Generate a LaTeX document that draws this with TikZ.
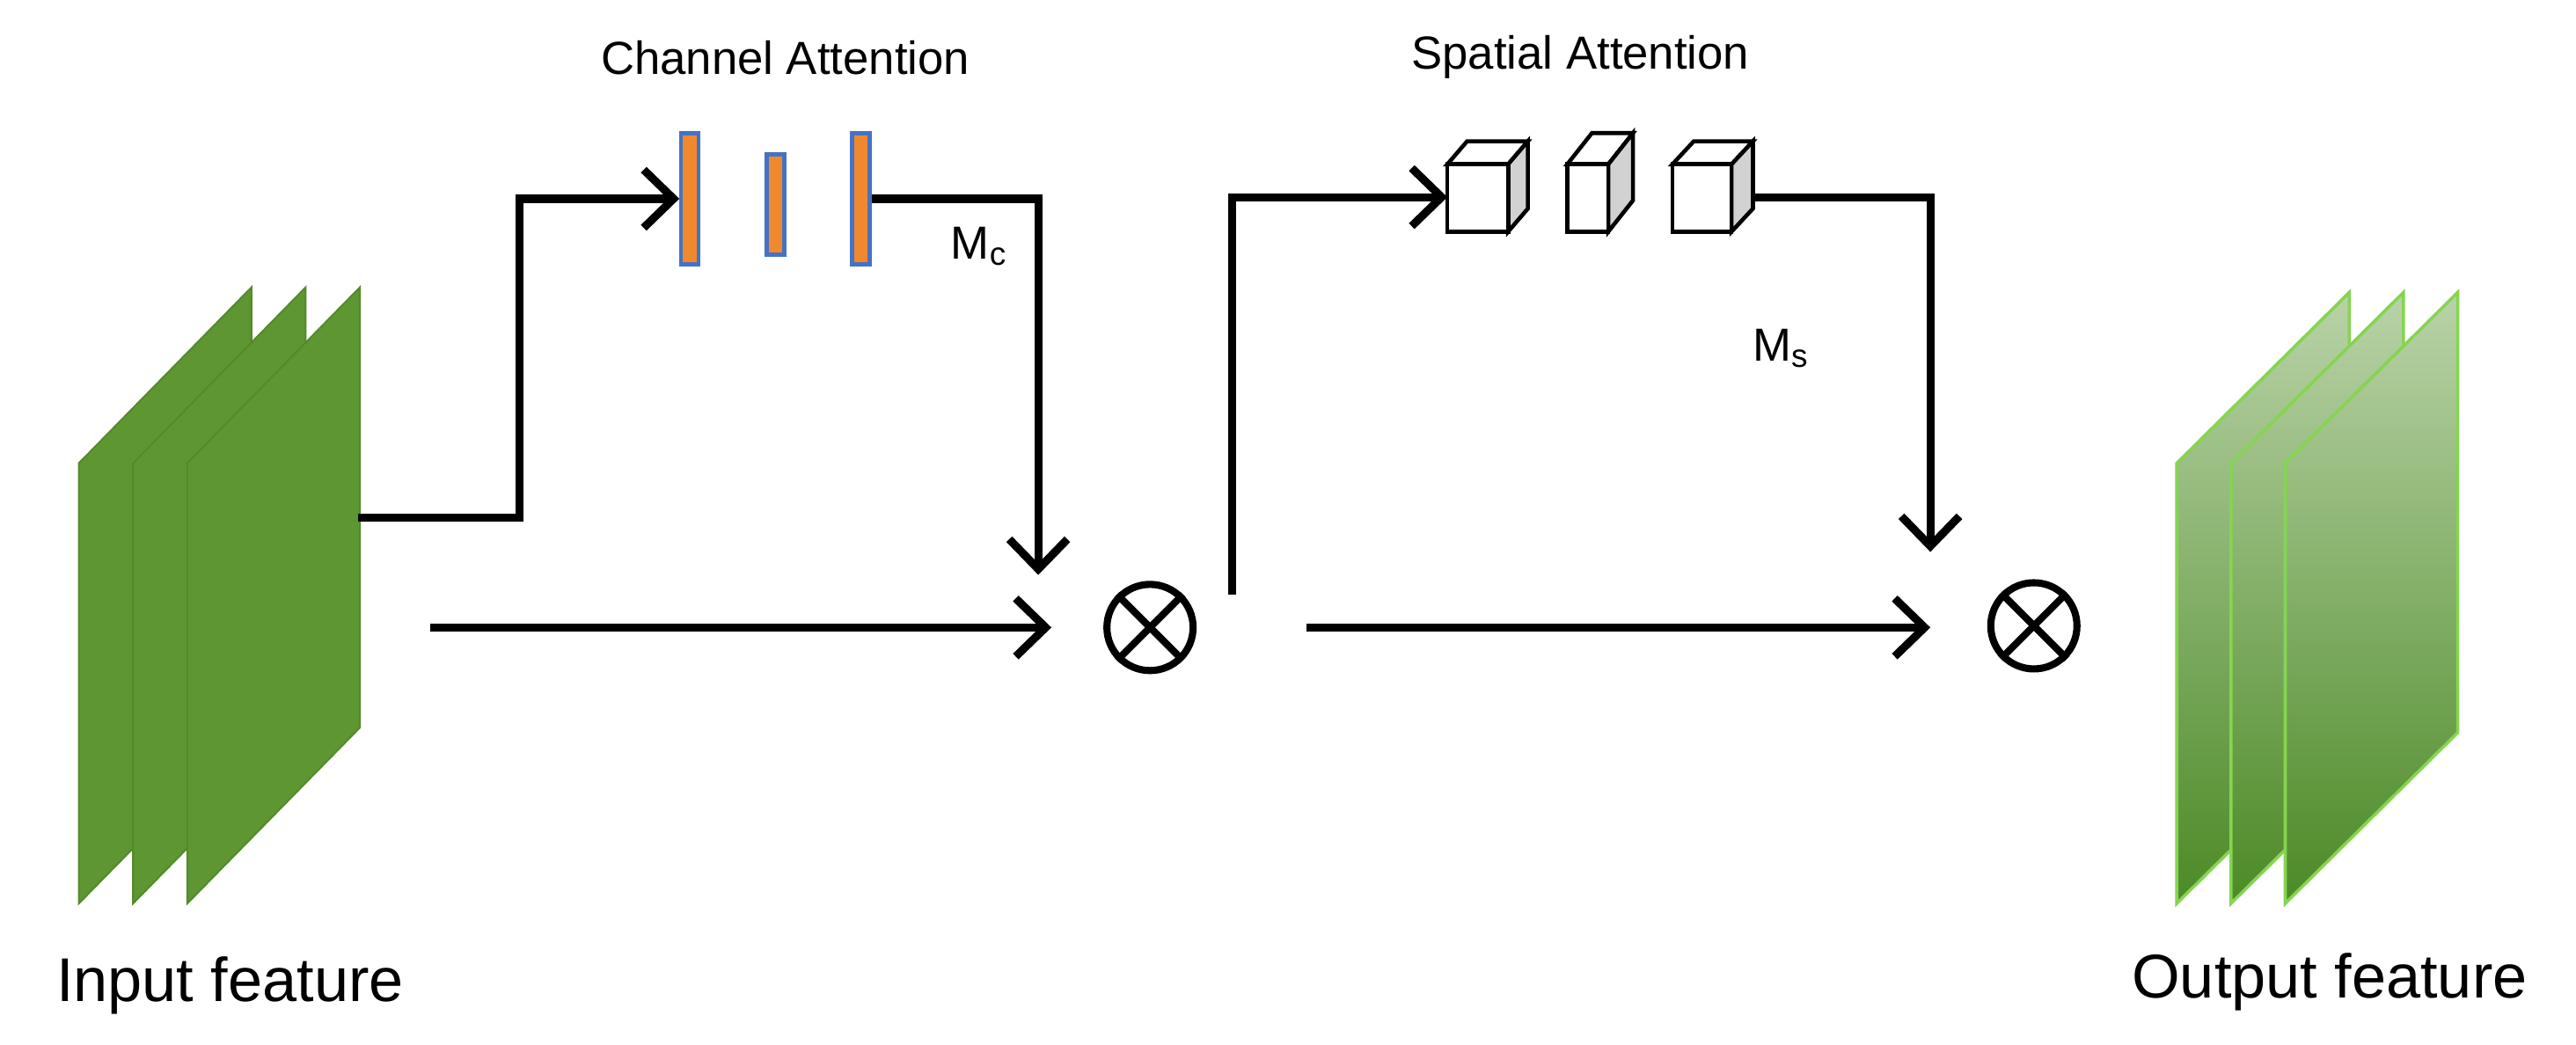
\documentclass[tikz,border=0pt]{standalone}
\usepackage{fontspec}
\setmainfont{Liberation Sans}
\usetikzlibrary{arrows.meta,positioning}

\definecolor{featgreen}{HTML}{5E9732}
\definecolor{featedge}{HTML}{558A2C}
\definecolor{outtop}{HTML}{B9D3A8}
\definecolor{outbot}{HTML}{4C8A26}
\definecolor{outedge}{HTML}{86D451}
\definecolor{barfill}{HTML}{F0892E}
\definecolor{baredge}{HTML}{4472C4}

\tikzset{
  flow/.style={line width=2.6pt, -{Straight Barb[length=3.4mm,width=6.6mm,line width=2.6pt]}},
  link/.style={line width=2.6pt},
  bar/.style={rectangle, fill=barfill, draw=baredge, line width=1.2pt, inner sep=0pt, minimum width=0.2cm},
  mult/.style={circle, draw, line width=2.3pt, minimum size=0.98cm, inner sep=0pt},
  lbl/.style={font=\fontsize{15}{18}\selectfont},
  biglbl/.style={font=\fontsize{20}{24}\selectfont}
}

% cube: x, y of front top-left, width, height, depth x, depth y
\newcommand\drawcube[6]{%
  \fill[white, draw=black, line width=1.3pt] (#1,#2) -- ++(#5,-#6) -- ++(#3,0) -- ++(-#5,#6) -- cycle;
  \fill[gray!35, draw=black, line width=1.3pt] ({#1+#3},#2) -- ++(#5,-#6) -- ++(0,#4) -- ++(-#5,#6) -- cycle;
  \draw[fill=white, line width=1.3pt] (#1,#2) rectangle ++(#3,#4);
}

\begin{document}
\begin{tikzpicture}[x=0.018673cm, y=-0.018673cm]
\useasboundingbox (0,0) rectangle (1568,636);

% input feature
\foreach \i in {0,1,2}
  \fill[featgreen, draw=featedge, line width=0.6pt] ({48+33*\i},282) -- ++(105,-107) -- ++(0,268) -- ++(-105,107) -- cycle;
\node[biglbl] (inlbl) at (140,600) {Input feature};

% output feature
\foreach \i in {0,1,2}
  \shade[top color=outtop, bottom color=outbot, draw=outedge, line width=1pt] ({1325+33*\i},282) -- ++(105,-104) -- ++(0,268) -- ++(-105,104) -- cycle;
\node[biglbl] (outlbl) at (1418,598) {Output feature};

% channel attention
\node[lbl] (calbl) at (478,35) {Channel Attention};
\node[bar, minimum height=1.49cm] (bar1) at (420,121) {};
\node[bar, minimum height=1.14cm] (bar2) at (472,124.5) {};
\node[bar, minimum height=1.49cm] (bar3) at (524,121) {};
\node[lbl] (mc) at (596,150) {M\textsubscript{c}};

% spatial attention
\node[lbl] (salbl) at (962,35) {Spatial Attention};
\drawcube{881}{100}{37}{41}{12}{14}
\drawcube{954}{100}{25}{41}{15}{19}
\drawcube{1018}{100}{36}{41}{13}{14}
\coordinate (cube1) at (881,120);
\coordinate (cube3) at (1067,120);
\node[lbl] (ms) at (1084,212) {M\textsubscript{s}};

% multiplications
\node[mult] (mul1) at (700,382) {};
\node[mult] (mul2) at (1238,381) {};
\foreach \m in {mul1,mul2} {
  \draw[line width=2.3pt] (\m.north east) -- (\m.south west);
  \draw[line width=2.3pt] (\m.north west) -- (\m.south east);
}

% connectors
\coordinate (inout) at (218,315);
\coordinate (inmid) at (262,382);
\coordinate (mcin) at (632,350);
\coordinate (mid1) at (640,382);
\coordinate (mulout) at (750,362);
\coordinate (mid2) at (795,382);
\coordinate (mid3) at (1175,382);
\coordinate (msin) at (1175,336);

\draw[flow] (inout) -- (316,315) |- (bar1.west);
\draw[flow] (bar3.east) -| (mcin);
\draw[flow] (inmid) -- (mid1);
\draw[flow] (mulout) |- (cube1);
\draw[flow] (cube3) -| (msin);
\draw[flow] (mid2) -- (mid3);
\end{tikzpicture}
\end{document}
